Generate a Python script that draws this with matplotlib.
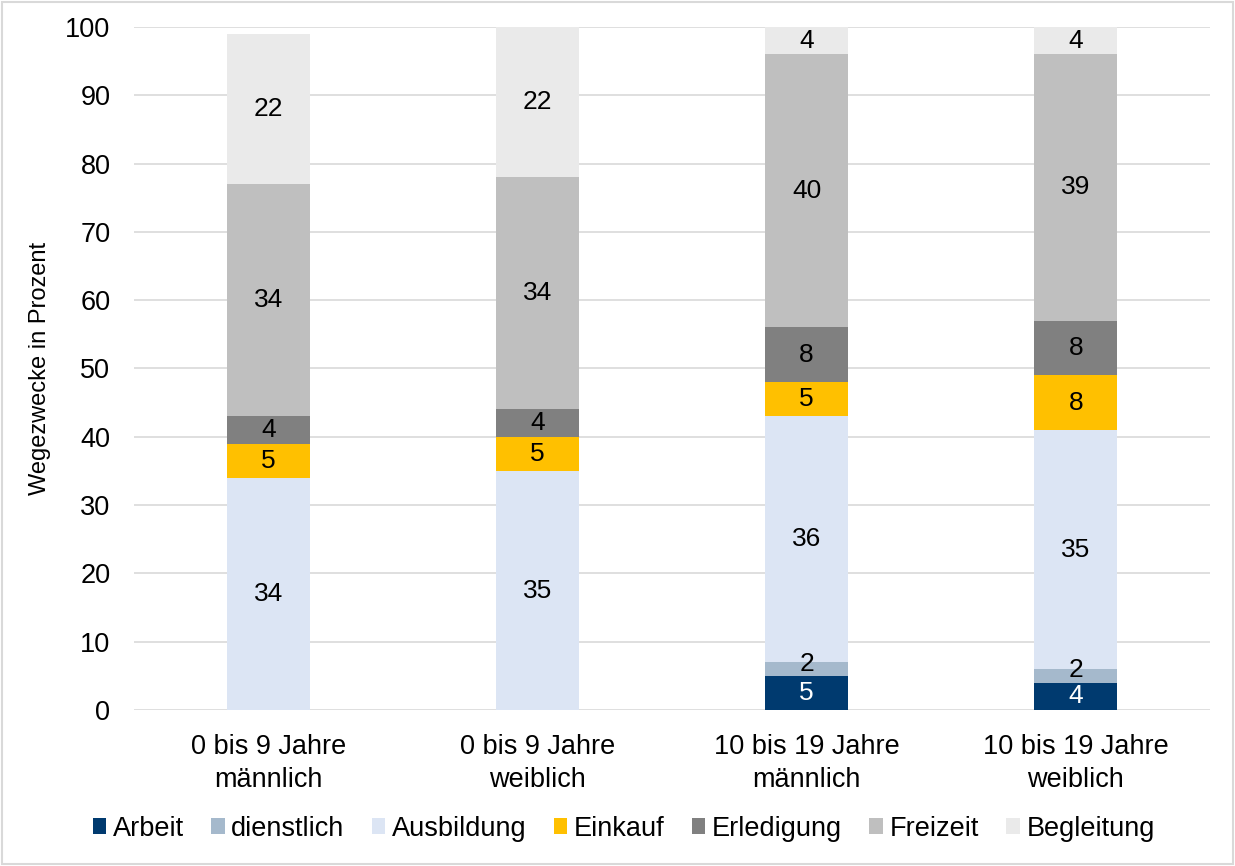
import matplotlib.pyplot as plt
from matplotlib.patches import Rectangle

plt.rcParams['font.family'] = ['Liberation Sans', 'DejaVu Sans']

groups = ['0 bis 9 Jahre\nmännlich', '0 bis 9 Jahre\nweiblich',
          '10 bis 19 Jahre\nmännlich', '10 bis 19 Jahre\nweiblich']
purposes = ['Arbeit', 'dienstlich', 'Ausbildung', 'Einkauf', 'Erledigung', 'Freizeit', 'Begleitung']
arbeit = [0, 0, 5, 4]
dienstlich = [0, 0, 2, 2]
ausbildung = [34, 35, 36, 35]
einkauf = [5, 5, 5, 8]
erledigung = [4, 4, 8, 8]
freizeit = [34, 34, 40, 39]
begleitung = [22, 22, 4, 4]
series = [arbeit, dienstlich, ausbildung, einkauf, erledigung, freizeit, begleitung]
colors = ['#003A6F', '#A5B9CC', '#DCE5F4', '#FFC000', '#808080', '#BFBFBF', '#EAEAEA']
text_colors = ['white', 'black', 'black', 'black', 'black', 'black', 'black']

fig = plt.figure(figsize=(12.35, 8.66), dpi=100)
ax = fig.add_axes([0.1085, 0.18, 0.8715, 0.789])

x = range(len(groups))
bottom = [0] * len(groups)
for name, vals, c, tc in zip(purposes, series, colors, text_colors):
    bars = ax.bar(x, vals, 0.31, bottom=bottom, color=c, label=name, zorder=3)
    for b, v, btm in zip(bars, vals, bottom):
        if v > 0:
            # tiny segments: nudge label up a little so neighbours don't collide
            dy = 4 if v < 3 else 0
            ax.annotate(str(v), (b.get_x() + b.get_width() / 2, btm + v / 2),
                        xytext=(0, dy), textcoords='offset points',
                        ha='center', va='center', fontsize=19, color=tc, zorder=4)
    bottom = [a + b for a, b in zip(bottom, vals)]

ax.set_xlim(-0.5, 3.5)
ax.set_ylim(0, 100)
ax.set_yticks(range(0, 101, 10))
ax.yaxis.grid(True, color='#D9D9D9', linewidth=1.2, zorder=0)
for s in ax.spines.values():
    s.set_visible(False)
ax.tick_params(axis='both', length=0, labelsize=19.5)
ax.tick_params(axis='x', pad=17)
ax.tick_params(axis='y', pad=17)
ax.set_xticks(list(x))
ax.set_xticklabels(groups, linespacing=1.35)
ax.set_ylabel('Wegezwecke in Prozent', fontsize=17, labelpad=10)

fig.legend(loc='center', bbox_to_anchor=(0.505, 0.043), ncol=7, frameon=False,
           fontsize=19.5, handlelength=0.5, handleheight=0.5, handletextpad=0.25,
           columnspacing=1.0)

fig.patches.append(Rectangle((0.002, 0.002), 0.996, 0.996, transform=fig.transFigure,
                             fill=False, edgecolor='#D9D9D9', linewidth=1.5))

fig.savefig('out.png', dpi=100)
